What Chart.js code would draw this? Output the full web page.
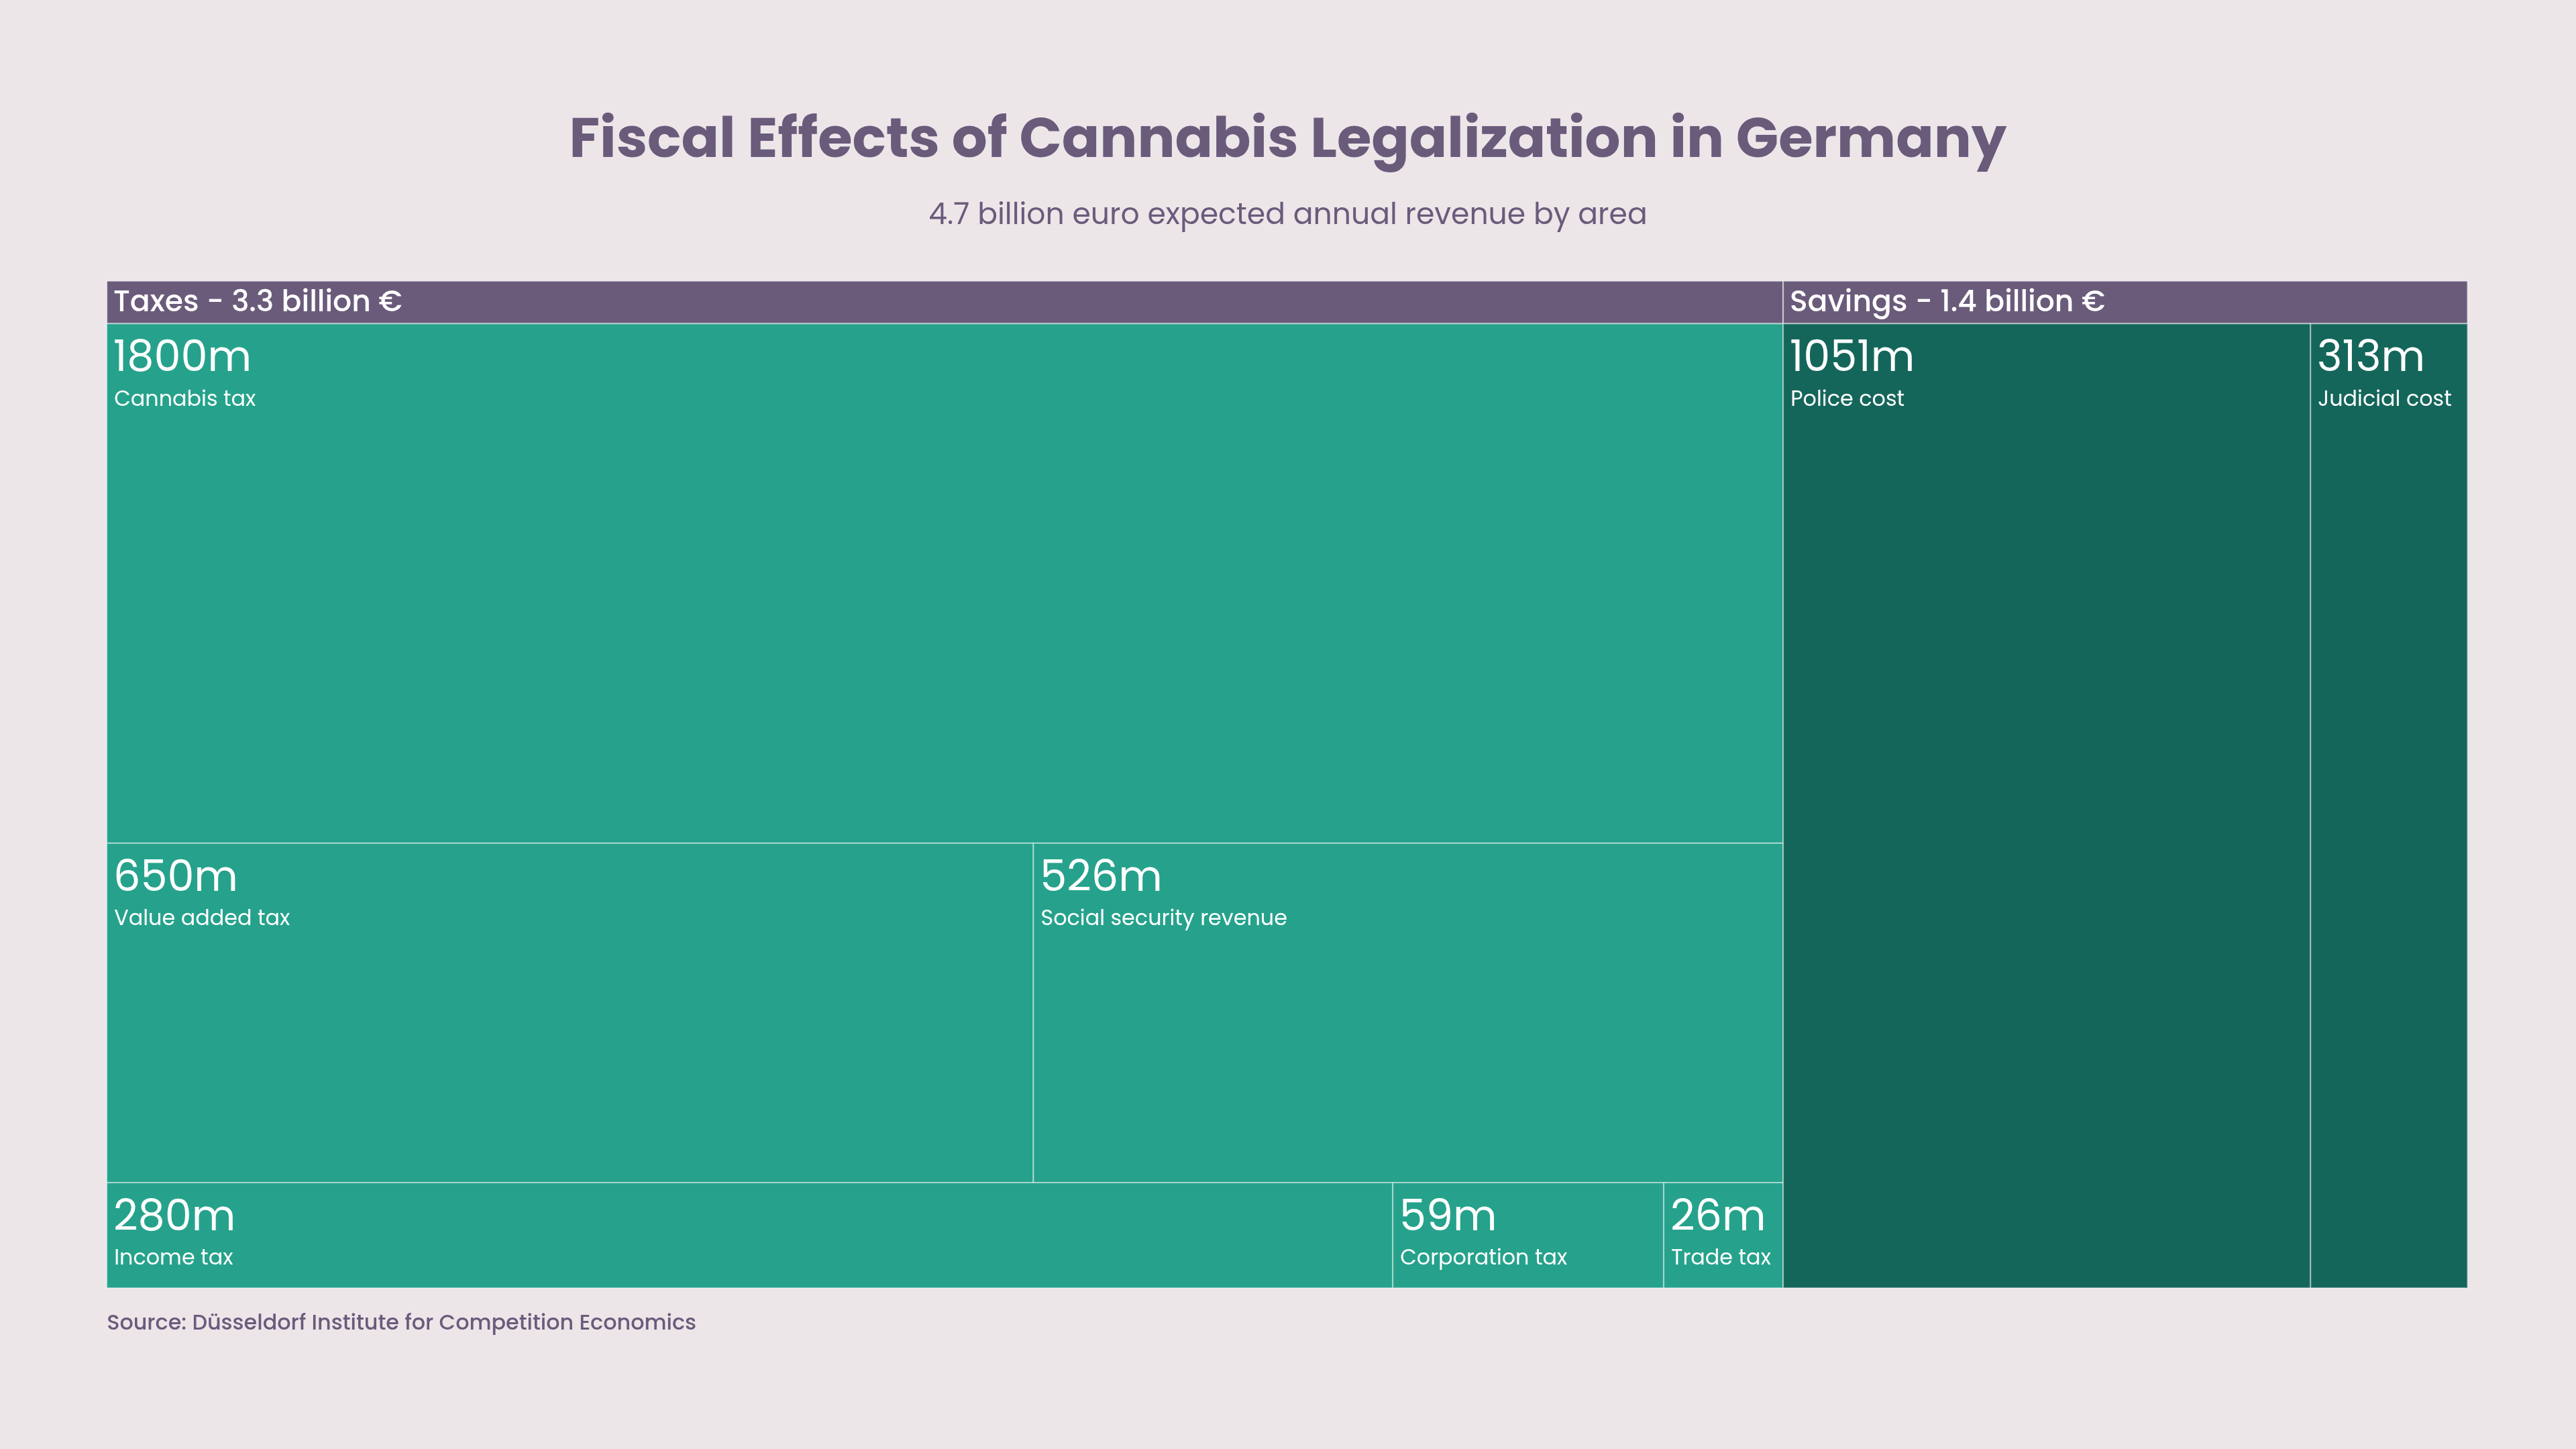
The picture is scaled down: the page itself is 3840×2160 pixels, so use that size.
<!DOCTYPE html>
<html>
<head>
<meta charset="utf-8">
<style>
  html, body { margin: 0; padding: 0; background: #ece6e9; }
  #wrap { width: 3840px; height: 2160px; }
</style>
<script src="https://cdn.jsdelivr.net/npm/chart.js@4/dist/chart.umd.min.js"></script>
</head>
<body>
<div id="wrap"><canvas id="chart"></canvas></div>
<script>
const groupNames = ["Taxes - 3.3 billion €", "Savings - 1.4 billion €"];
const taxLabels = [["Cannabis tax"], ["Value added tax", "Social security revenue"], ["Income tax", "Corporation tax", "Trade tax"]];
const taxValues = [[1800], [650, 526], [280, 59, 26]];
const savingLabels = ["Police cost", "Judicial cost"];
const savingValues = [1051, 313];

const FONT = "Poppins, Inter, 'Open Sans', sans-serif";
const sum = (a) => a.reduce((s, v) => s + v, 0);
const taxTotal = sum(taxValues.flat());
const savingTotal = sum(savingValues);
const total = taxTotal + savingTotal;

// layout in data units: x 0..total, y 0..1
const rects = [];
let y = 0;
taxValues.forEach((row, r) => {
  const h = sum(row) / taxTotal;
  let x = 0;
  row.forEach((v, i) => {
    const w = (v / sum(row)) * taxTotal;
    rects.push({ x0: x, x1: x + w, y0: y, y1: y + h, value: v, label: taxLabels[r][i], color: "#26a28c" });
    x += w;
  });
  y += h;
});
let sx = taxTotal;
savingValues.forEach((v, i) => {
  rects.push({ x0: sx, x1: sx + v, y0: 0, y1: 1, value: v, label: savingLabels[i], color: "#15665a" });
  sx += v;
});

const S = 2.449;
const treemap = {
  id: "treemap",
  beforeDatasetsDraw(chart) {
    const { ctx, scales: { x: xs, y: ys }, chartArea: a } = chart;
    ctx.save();
    // group headers
    const hTop = 171 * S;
    const groups = [[0, taxTotal, groupNames[0]], [taxTotal, total, groupNames[1]]];
    groups.forEach(([g0, g1, name]) => {
      const px0 = xs.getPixelForValue(g0), px1 = xs.getPixelForValue(g1);
      ctx.fillStyle = "#6a5b7b";
      ctx.fillRect(px0, hTop, px1 - px0, a.top - hTop);
      ctx.strokeStyle = "rgba(255,255,255,0.55)";
      ctx.lineWidth = 2;
      ctx.strokeRect(px0, hTop, px1 - px0, a.top - hTop);
      ctx.fillStyle = "#ffffff";
      ctx.font = `500 ${18 * S}px ${FONT}`;
      ctx.textBaseline = "middle";
      ctx.textAlign = "left";
      ctx.fillText(name, px0 + 4 * S, (hTop + a.top) / 2 + 1 * S);
    });
    rects.forEach((r) => {
      const px0 = xs.getPixelForValue(r.x0), px1 = xs.getPixelForValue(r.x1);
      const py0 = ys.getPixelForValue(r.y0), py1 = ys.getPixelForValue(r.y1);
      ctx.fillStyle = r.color;
      ctx.fillRect(px0, py0, px1 - px0, py1 - py0);
      ctx.strokeStyle = "rgba(255,255,255,0.45)";
      ctx.lineWidth = 2;
      ctx.strokeRect(px0, py0, px1 - px0, py1 - py0);
      ctx.fillStyle = "#ffffff";
      ctx.textAlign = "left";
      ctx.textBaseline = "alphabetic";
      ctx.font = `400 ${26 * S}px ${FONT}`;
      ctx.fillText(r.value + "m", px0 + 4 * S, py0 + 29 * S);
      ctx.font = `400 ${13 * S}px ${FONT}`;
      ctx.fillText(r.label, px0 + 4.5 * S, py0 + 50 * S);
    });
    // title, subtitle, source
    ctx.textAlign = "center";
    ctx.textBaseline = "middle";
    ctx.fillStyle = "#6a5b7b";
    ctx.font = `700 ${34 * S}px ${FONT}`;
    ctx.fillText("Fiscal Effects of Cannabis Legalization in Germany", 784 * S, 87 * S);
    ctx.font = `400 ${18 * S}px ${FONT}`;
    ctx.fillText("4.7 billion euro expected annual revenue by area", 784 * S, 132 * S);
    ctx.textAlign = "left";
    ctx.font = `500 ${13 * S}px ${FONT}`;
    ctx.fillText("Source: Düsseldorf Institute for Competition Economics", 65 * S, 806 * S);
    ctx.restore();
  },
};

new Chart(document.getElementById("chart"), {
  type: "scatter",
  data: { datasets: [{ data: [] }] },
  plugins: [treemap],
  options: {
    responsive: true,
    maintainAspectRatio: false,
    animation: false,
    layout: { padding: { left: 65 * S, right: 3840 - 1502 * S, top: 197 * S, bottom: 2160 - 784 * S } },
    scales: {
      x: { type: "linear", min: 0, max: total, display: false },
      y: { type: "linear", min: 0, max: 1, reverse: true, display: false },
    },
    plugins: { legend: { display: false }, tooltip: { enabled: false } },
  },
});
</script>
</body>
</html>
